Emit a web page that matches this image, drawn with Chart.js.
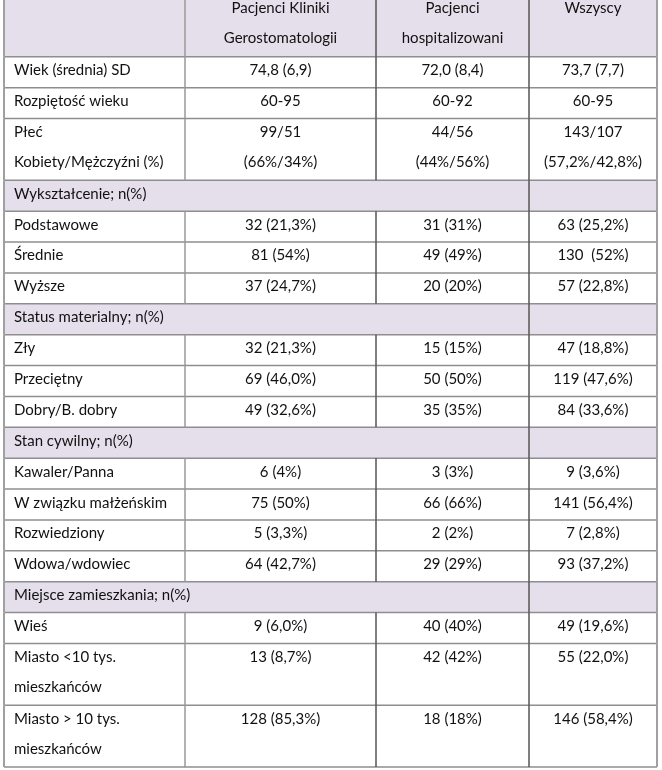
<!DOCTYPE html>
<html>
<head>
<meta charset="utf-8">
<script src="https://cdn.jsdelivr.net/npm/chart.js@4/dist/chart.umd.min.js"></script>
<style>
  html, body { margin: 0; padding: 0; background: #fff; overflow: hidden; }
  #wrap { position: absolute; left: 0; top: -5px; width: 662px; height: 775px; }
</style>
</head>
<body>
<div id="wrap"><canvas id="tbl"></canvas></div>
<script>
// table content
headers = ['', 'Pacjenci Kliniki\nGerostomatologii', 'Pacjenci\nhospitalizowani', 'Wszyscy'];

rowLabels = ['Wiek (średnia) SD', 'Rozpiętość wieku', 'Płeć\nKobiety/Mężczyźni (%)',
  'Wykształcenie; n(%)', 'Podstawowe', 'Średnie', 'Wyższe',
  'Status materialny; n(%)', 'Zły', 'Przeciętny', 'Dobry/B. dobry',
  'Stan cywilny; n(%)', 'Kawaler/Panna', 'W związku małżeńskim', 'Rozwiedziony', 'Wdowa/wdowiec',
  'Miejsce zamieszkania; n(%)', 'Wieś', 'Miasto <10 tys.\nmieszkańców', 'Miasto > 10 tys.\nmieszkańców'];

kliniki = ['74,8 (6,9)', '60-95', '99/51\n(66%/34%)',
  '', '32 (21,3%)', '81 (54%)', '37 (24,7%)',
  '', '32 (21,3%)', '69 (46,0%)', '49 (32,6%)',
  '', '6 (4%)', '75 (50%)', '5 (3,3%)', '64 (42,7%)',
  '', '9 (6,0%)', '13 (8,7%)', '128 (85,3%)'];

hospital = ['72,0 (8,4)', '60-92', '44/56\n(44%/56%)',
  '', '31 (31%)', '49 (49%)', '20 (20%)',
  '', '15 (15%)', '50 (50%)', '35 (35%)',
  '', '3 (3%)', '66 (66%)', '2 (2%)', '29 (29%)',
  '', '40 (40%)', '42 (42%)', '18 (18%)'];

wszyscy = ['73,7 (7,7)', '60-95', '143/107\n(57,2%/42,8%)',
  '', '63 (25,2%)', '130  (52%)', '57 (22,8%)',
  '', '47 (18,8%)', '119 (47,6%)', '84 (33,6%)',
  '', '9 (3,6%)', '141 (56,4%)', '7 (2,8%)', '93 (37,2%)',
  '', '49 (19,6%)', '55 (22,0%)', '146 (58,4%)'];

sectionRows = ['Wykształcenie; n(%)', 'Status materialny; n(%)', 'Stan cywilny; n(%)', 'Miejsce zamieszkania; n(%)'];

// layout (relative column widths, row units)
colWidths = [181, 191, 153, 128];
lavender = '#e5dfec';
textTop = 0.44;   // first text line, in row units below row top
lineStep = 0.97;  // next text line

columns = [rowLabels, kliniki, hospital, wszyscy];
allRows = [headers].concat(rowLabels.map((l, i) => columns.map(c => c[i])));
rowSpan = allRows.map((r, i) => i == 0 ? 2 : Math.max(...r.map(t => t.split('\n').length)));
rowTop = [];
acc = 0;
rowSpan.forEach(s => { rowTop.push(acc); acc += s; });
totalUnits = acc;
colEdge = [0];
colWidths.forEach(w => colEdge.push(colEdge[colEdge.length - 1] + w));

datasets = [0, 1, 2, 3].map(c => ({
  label: 'col' + c,
  data: allRows.map((r, i) => ({
    x: c == 0 ? colEdge[0] : (colEdge[c] + colEdge[c + 1]) / 2,
    y: rowTop[i] + textTop,
    txt: r[c]
  })),
  pointRadius: 0
}));

tablePlugin = {
  id: 'tablePlugin',
  beforeDatasetsDraw(chart) {
    const ctx = chart.ctx, xs = chart.scales.x, ys = chart.scales.y;
    ctx.save();
    allRows.forEach((r, i) => {
      const isSec = i == 0 || sectionRows.includes(r[0]);
      if (!isSec) return;
      ctx.fillStyle = lavender;
      const y0 = ys.getPixelForValue(rowTop[i]), y1 = ys.getPixelForValue(rowTop[i] + rowSpan[i]);
      ctx.fillRect(xs.getPixelForValue(0), y0, xs.getPixelForValue(colEdge[4]) - xs.getPixelForValue(0), y1 - y0);
    });
    ctx.restore();
  },
  afterDatasetsDraw(chart) {
    const ctx = chart.ctx, xs = chart.scales.x, ys = chart.scales.y;
    ctx.save();
    // horizontal rules
    ctx.lineWidth = 1.5;
    ctx.strokeStyle = '#8e8e8e';
    rowTop.concat([totalUnits]).forEach(v => {
      const y = ys.getPixelForValue(v);
      ctx.beginPath();
      ctx.moveTo(xs.getPixelForValue(0), y);
      ctx.lineTo(xs.getPixelForValue(colEdge[4]), y);
      ctx.stroke();
    });
    // vertical rules, skipped inside merged section cells
    const vColor = ['#a0a0a0', '#999999', '#555555', '#555555', '#a0a0a0'];
    colEdge.forEach((e, c) => {
      const x = xs.getPixelForValue(e);
      ctx.strokeStyle = vColor[c];
      ctx.lineWidth = (c == 0 || c == 4) ? 2 : 1.5;
      allRows.forEach((r, i) => {
        if (i > 0 && sectionRows.includes(r[0]) && (c == 1 || c == 2)) return;
        ctx.beginPath();
        ctx.moveTo(x, ys.getPixelForValue(rowTop[i]));
        ctx.lineTo(x, ys.getPixelForValue(rowTop[i] + rowSpan[i]));
        ctx.stroke();
      });
    });
    // cell text
    ctx.fillStyle = '#111111';
    ctx.font = '15px Lato';
    ctx.textBaseline = 'middle';
    const step = ys.getPixelForValue(lineStep) - ys.getPixelForValue(0);
    chart.data.datasets.forEach((ds, c) => {
      const meta = chart.getDatasetMeta(c);
      ds.data.forEach((d, i) => {
        if (!d.txt) return;
        const p = meta.data[i];
        ctx.textAlign = c == 0 ? 'left' : 'center';
        const x = c == 0 ? p.x + 10 : p.x;
        d.txt.split('\n').forEach((line, k) => ctx.fillText(line, x, p.y + k * step));
      });
    });
    ctx.restore();
  }
};

new Chart(document.getElementById('tbl'), {
  type: 'scatter',
  data: { datasets: datasets },
  options: {
    responsive: true,
    maintainAspectRatio: false,
    animation: false,
    layout: { padding: { left: 4, right: 5, top: 0, bottom: 3 } },
    plugins: { legend: { display: false }, tooltip: { enabled: false } },
    scales: {
      x: { type: 'linear', min: 0, max: colEdge[4], display: false },
      y: { type: 'linear', min: 0, max: totalUnits, reverse: true, display: false }
    }
  },
  plugins: [tablePlugin]
});
</script>
</body>
</html>
